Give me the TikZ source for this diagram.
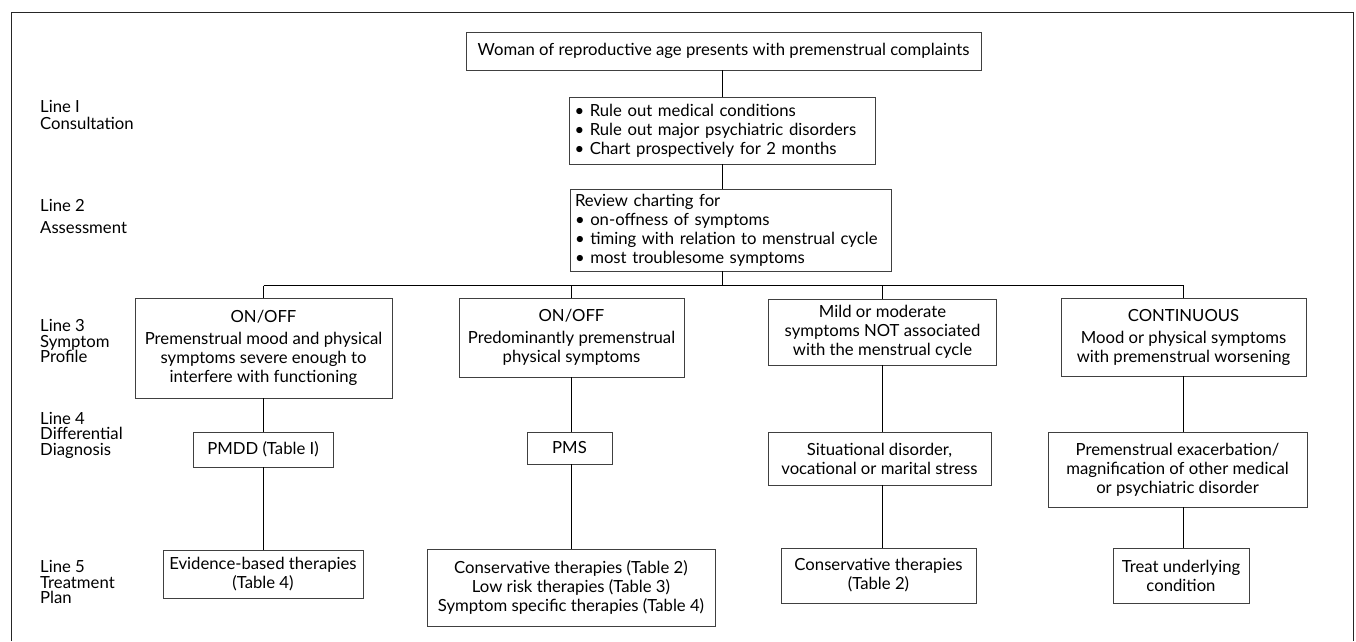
\documentclass[tikz,border=0pt]{standalone}
\usepackage{fontspec}
\setmainfont{Lato}
\newcommand{\fs}{\fontsize{16.7}{19}\selectfont}
\begin{document}
\begin{tikzpicture}[x=1pt,y=-1pt,
  box/.style={draw=black!75, line width=0.6pt, inner sep=0pt, align=center, font=\fs},
  lbox/.style={box, align=left, inner xsep=5pt},
  conn/.style={draw=black, line width=1.4pt},
  lbl/.style={anchor=base west, inner sep=0pt, font=\fs}]
\useasboundingbox (0,0) rectangle (1356,641);
% outer frame
\draw[line width=1pt, black!85] (11,641) -- (11,12) -- (1353,12) -- (1353,641);

% row labels
\node[lbl] (l1a) at (40,112) {Line I};
\node[lbl] (l1b) at (40,129) {Consultation};
\node[lbl] (l2a) at (40,211) {Line 2};
\node[lbl] (l2b) at (40,233) {Assessment};
\node[lbl] (l3a) at (40,331) {Line 3};
\node[lbl] (l3b) at (40,347) {Symptom};
\node[lbl] (l3c) at (40,362) {Profile};
\node[lbl] (l4a) at (40,424) {Line 4};
\node[lbl] (l4b) at (40,439.5) {Differential};
\node[lbl] (l4c) at (40,455) {Diagnosis};
\node[lbl] (l5a) at (40,572) {Line 5};
\node[lbl] (l5b) at (40,588) {Treatment};
\node[lbl] (l5c) at (40,603.5) {Plan};

% boxes
\node[box, minimum width=515, minimum height=38] (top) at (723.5,51)
  {Woman of reproductive age presents with premenstrual complaints};
\node[lbox, text width=296, minimum width=306, minimum height=67] (b2) at (722.5,130.5)
  {• Rule out medical conditions\\ • Rule out major psychiatric disorders\\ • Chart prospectively for 2 months};
\node[lbox, text width=311, minimum width=321, minimum height=82] (b3) at (730.5,230)
  {Review charting for\\ • on-offness of symptoms\\ • timing with relation to menstrual cycle\\ • most troublesome symptoms};

\node[box, minimum width=257, minimum height=100] (c1) at (263.5,348)
  {ON/OFF\\[3pt] Premenstrual mood and physical\\ symptoms severe enough to\\ interfere with functioning};
\node[box, minimum width=225, minimum height=79] (c2) at (571.5,337.5)
  {ON/OFF\\[3pt] Predominantly premenstrual\\ physical symptoms};
\node[box, minimum width=228, minimum height=66] (c3) at (882.5,332)
  {Mild or moderate\\ symptoms NOT associated\\ with the menstrual cycle};
\node[box, minimum width=245, minimum height=78] (c4) at (1183.5,337)
  {CONTINUOUS\\[3pt] Mood or physical symptoms\\ with premenstrual worsening};

\node[box, minimum width=140, minimum height=35] (d1) at (263,449.5) {PMDD (Table I)};
\node[box, minimum width=85, minimum height=32] (d2) at (569.5,448) {PMS};
\node[box, minimum width=223, minimum height=53] (d3) at (879.5,458.5)
  {Situational disorder,\\ vocational or marital stress};
\node[box, minimum width=259, minimum height=75] (d4) at (1177.5,469.5)
  {Premenstrual exacerbation/\\ magnification of other medical\\ or psychiatric disorder};

\node[box, minimum width=200, minimum height=48] (t1) at (263,574)
  {Evidence-based therapies\\ (Table 4)};
\node[box, minimum width=288, minimum height=77] (t2) at (571,587.5)
  {Conservative therapies (Table 2)\\ Low risk therapies (Table 3)\\ Symptom specific therapies (Table 4)};
\node[box, minimum width=195, minimum height=55] (t3) at (878.5,575.5)
  {Conservative therapies\\ (Table 2)};
\node[box, minimum width=136, minimum height=55] (t4) at (1181,575.5)
  {Treat underlying\\ condition};

% connectors
\coordinate (bus) at (722.5,285.5);
\draw[conn] (b2.north |- top.south) -- (b2.north);
\draw[conn] (b2.south) -- (b2.south |- b3.north);
\draw[conn] (b2.south |- b3.south) -- (b2.south |- bus);
\draw[conn] (c1.north |- bus) -- (c4.north |- bus);
\draw[conn] (c1.north |- bus) -- (c1.north);
\draw[conn] (c2.north |- bus) -- (c2.north);
\draw[conn] (c3.north |- bus) -- (c3.north);
\draw[conn] (c4.north |- bus) -- (c4.north);

\draw[conn] (c1.south) -- (c1.south |- d1.north);
\draw[conn] (c1.south |- d1.south) -- (c1.south |- t1.north);
\draw[conn] (c2.south) -- (c2.south |- d2.north);
\draw[conn] (c2.south |- d2.south) -- (c2.south |- t2.north);
\draw[conn] (c3.south) -- (c3.south |- d3.north);
\draw[conn] (c3.south |- d3.south) -- (c3.south |- t3.north);
\draw[conn] (c4.south) -- (c4.south |- d4.north);
\draw[conn] (c4.south |- d4.south) -- (c4.south |- t4.north);
\end{tikzpicture}
\end{document}
